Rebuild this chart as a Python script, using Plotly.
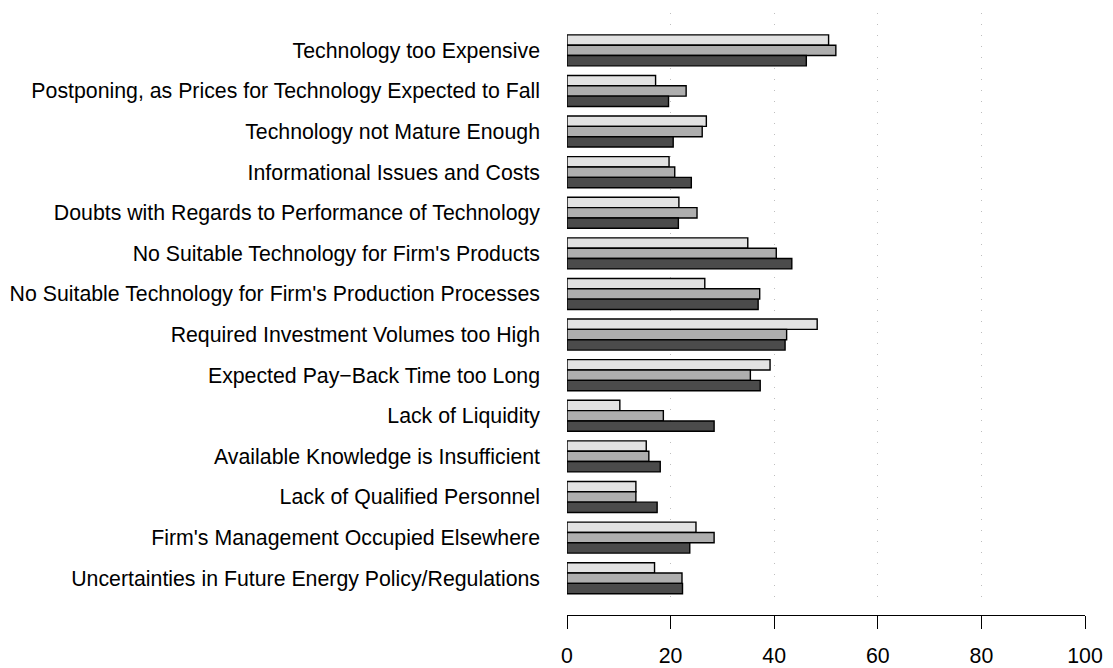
import plotly.graph_objects as go

# Barriers to adopting energy-efficient technology (share of firms, %)
categories = [
    "Technology too Expensive",
    "Postponing, as Prices for Technology Expected to Fall",
    "Technology not Mature Enough",
    "Informational Issues and Costs",
    "Doubts with Regards to Performance of Technology",
    "No Suitable Technology for Firm's Products",
    "No Suitable Technology for Firm's Production Processes",
    "Required Investment Volumes too High",
    "Expected Pay\u2212Back Time too Long",
    "Lack of Liquidity",
    "Available Knowledge is Insufficient",
    "Lack of Qualified Personnel",
    "Firm's Management Occupied Elsewhere",
    "Uncertainties in Future Energy Policy/Regulations",
]

series_light = [50.5, 17.1, 26.9, 19.7, 21.6, 34.9, 26.6, 48.3, 39.2, 10.2, 15.3, 13.3, 24.9, 16.9]
series_mid = [51.9, 23.0, 26.1, 20.8, 25.1, 40.4, 37.2, 42.4, 35.4, 18.6, 15.8, 13.3, 28.4, 22.2]
series_dark = [46.2, 19.6, 20.5, 24.0, 21.5, 43.4, 36.9, 42.1, 37.3, 28.4, 18.0, 17.4, 23.7, 22.3]

x_ticks = [0, 20, 40, 60, 80, 100]

series = [
    ("light", series_light, "#E2E2E2"),
    ("mid", series_mid, "#AEAEAE"),
    ("dark", series_dark, "#4B4B4B"),
]

fig = go.Figure()
for name, vals, color in series:
    fig.add_trace(go.Bar(
        y=categories, x=vals, orientation="h", name=name,
        marker=dict(color=color, line=dict(color="black", width=1.4)),
    ))

font = dict(family="Liberation Sans, Arial, sans-serif", size=21.3, color="black")

# page body has an 8px margin, so the figure is 8px smaller than the window
fig.update_layout(
    width=1105, height=660,
    barmode="group", bargap=0.236, bargroupgap=0,
    showlegend=False,
    plot_bgcolor="white", paper_bgcolor="white",
    margin=dict(l=559, r=28, t=5, b=53, autoexpand=False),
    font=font,
)

fig.update_xaxes(
    range=[0, 100], tickvals=x_ticks,
    anchor="free", position=0, automargin=False,
    showline=True, linecolor="black", linewidth=1.3,
    ticks="outside", ticklen=13, tickwidth=1.3, tickcolor="black",
    showgrid=True, gridcolor="#BEBEBE", griddash="1px,10px", gridwidth=1.2,
    zeroline=False, tickfont=font, ticklabelstandoff=8,
)

fig.update_yaxes(
    autorange=False, range=[13.66, -0.92],
    domain=[10 / 602, 1], automargin=False,
    showline=False, showgrid=False, zeroline=False,
    ticks="", ticklabelstandoff=26, tickfont=font,
)

fig.write_html("out.html")
